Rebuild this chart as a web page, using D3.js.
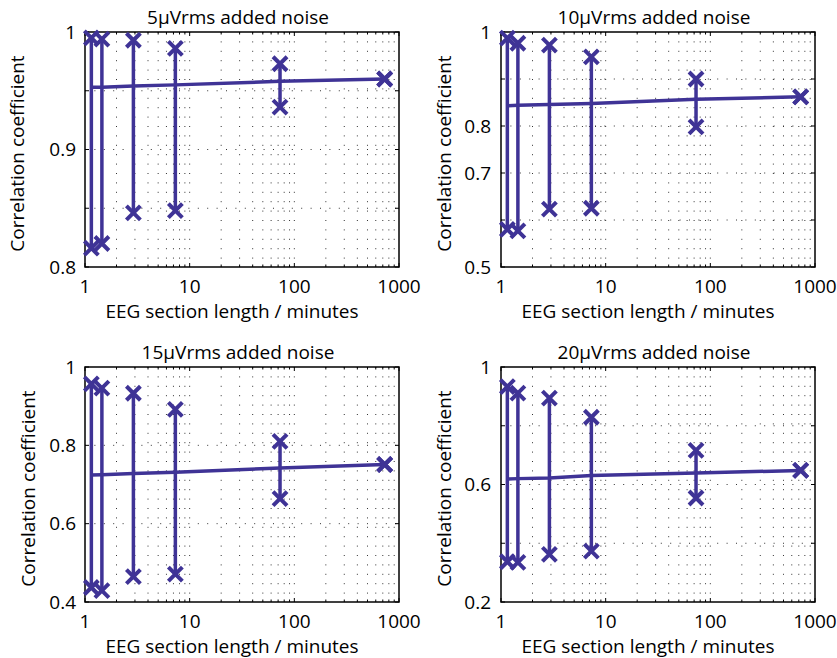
<!DOCTYPE html>
<html>
<head>
<meta charset="utf-8">
<title>Correlation vs section length</title>
<script src="https://d3js.org/d3.v7.min.js"></script>
<style>
  body { margin: 0; background: #fff; }
  text { font-family: "Open Sans", "Noto Sans", sans-serif; fill: #000; }
</style>
</head>
<body>
<svg width="837" height="658"></svg>
<script>
// section lengths (minutes), shared by all panels
var sectionLengths = [1.15, 1.45, 2.9, 7.3, 73, 730];

var panelTitles = ["5\u03BCVrms added noise", "10\u03BCVrms added noise", "15\u03BCVrms added noise", "20\u03BCVrms added noise"];

// mean / max / min correlation per panel
var meanValues = [
  [0.953, 0.953, 0.954, 0.955, 0.958, 0.960],
  [0.843, 0.844, 0.846, 0.848, 0.857, 0.862],
  [0.724, 0.725, 0.728, 0.731, 0.742, 0.751],
  [0.619, 0.620, 0.622, 0.631, 0.639, 0.648]
];
var maxValues = [
  [0.995, 0.994, 0.993, 0.986, 0.973, 0.960],
  [0.987, 0.976, 0.972, 0.947, 0.900, 0.862],
  [0.957, 0.946, 0.933, 0.892, 0.810, 0.751],
  [0.933, 0.911, 0.894, 0.829, 0.716, 0.648]
];
var minValues = [
  [0.816, 0.820, 0.846, 0.848, 0.936, 0.960],
  [0.580, 0.577, 0.623, 0.625, 0.798, 0.862],
  [0.437, 0.429, 0.465, 0.471, 0.664, 0.751],
  [0.337, 0.335, 0.362, 0.373, 0.554, 0.648]
];

// axis ranges and ticks
var yDomains = [[0.8, 1], [0.5, 1], [0.4, 1], [0.2, 1]];
var yTicks = [
  [0.8, 0.85, 0.9, 0.95, 1],
  [0.5, 0.6, 0.7, 0.8, 0.9, 1],
  [0.4, 0.6, 0.8, 1],
  [0.2, 0.4, 0.6, 0.8, 1]
];
var yTickLabels = [
  [0.8, 0.9, 1],
  [0.5, 0.7, 0.8, 1],
  [0.4, 0.6, 0.8, 1],
  [0.2, 0.6, 1]
];
var xMajorTicks = [1, 10, 100, 1000];
var xGridTicks = [1, 2, 3, 4, 5, 6, 7, 8, 9, 10, 20, 30, 40, 50, 60, 70, 80, 90,
                  100, 200, 300, 400, 500, 600, 700, 800, 900, 1000];

var lineColor = "#3f3396";
var svg = d3.select("svg");

var panelPos = [[85, 32], [501, 32], [85, 367], [501, 367]];
var ylabelX = [24, 451, 35, 451];
var pw = 314, ph = 235;
var fs = "19px";

panelTitles.forEach(function(title, i) {
  var g = svg.append("g").attr("transform", "translate(" + panelPos[i][0] + "," + panelPos[i][1] + ")");
  var x = d3.scaleLog().domain([1, 1000]).range([0, pw]);
  var y = d3.scaleLinear().domain(yDomains[i]).range([ph, 0]);

  // dotted grid
  g.selectAll(".vgrid").data(xGridTicks.slice(1, -1)).enter().append("line")
    .attr("x1", function(d){ return x(d); }).attr("x2", function(d){ return x(d); })
    .attr("y1", 0).attr("y2", ph)
    .attr("stroke", "#333").attr("stroke-width", 1)
    .attr("stroke-dasharray", "1,8.4");
  g.selectAll(".hgrid").data(yTicks[i].slice(1, -1)).enter().append("line")
    .attr("x1", 0).attr("x2", pw)
    .attr("y1", function(d){ return y(d); }).attr("y2", function(d){ return y(d); })
    .attr("stroke", "#333").attr("stroke-width", 1)
    .attr("stroke-dasharray", "1,8.4");

  // inward tick marks
  g.selectAll(".ytk").data(yTicks[i]).enter().append("path")
    .attr("d", function(d){ var yy = y(d); return "M0," + yy + "h4M" + pw + "," + yy + "h-4"; })
    .attr("stroke", "#000").attr("fill", "none");
  g.selectAll(".xtk").data(xGridTicks).enter().append("path")
    .attr("d", function(d){
      var xx = x(d), len = xMajorTicks.indexOf(d) >= 0 ? 4 : 2.5;
      return "M" + xx + "," + ph + "v-" + len + "M" + xx + ",0v" + len;
    })
    .attr("stroke", "#000").attr("fill", "none");

  // box
  g.append("rect").attr("width", pw).attr("height", ph)
    .attr("fill", "none").attr("stroke", "#000").attr("stroke-width", 1.5);

  // tick labels
  g.selectAll(".ylab").data(yTickLabels[i]).enter().append("text")
    .attr("x", i % 2 === 0 ? -9 : -10).attr("y", function(d){ return y(d); })
    .attr("dy", "0.35em").attr("text-anchor", "end")
    .style("font-size", fs)
    .text(function(d){ return d3.format("~g")(d); });
  g.selectAll(".xlab").data(xMajorTicks).enter().append("text")
    .attr("x", function(d){ return x(d); }).attr("y", ph + 26)
    .attr("text-anchor", "middle")
    .style("font-size", fs)
    .text(function(d){ return d; });

  // title and axis labels
  g.append("text").attr("x", pw / 2 - 4).attr("y", -8)
    .attr("text-anchor", "middle").style("font-size", fs).text(title);
  g.append("text").attr("x", pw / 2 - 10).attr("y", ph + 51)
    .attr("text-anchor", "middle").style("font-size", fs)
    .text("EEG section length / minutes");
  svg.append("text")
    .attr("transform", "translate(" + ylabelX[i] + "," + (panelPos[i][1] + ph / 2 + 4) + ") rotate(-90)")
    .attr("text-anchor", "middle").style("font-size", fs)
    .text("Correlation coefficient");

  // error bars
  var pts = sectionLengths.map(function(s, j){
    return { x: s, mean: meanValues[i][j], max: maxValues[i][j], min: minValues[i][j] };
  });
  g.selectAll(".err").data(pts).enter().append("line")
    .attr("x1", function(d){ return x(d.x); }).attr("x2", function(d){ return x(d.x); })
    .attr("y1", function(d){ return y(d.max); }).attr("y2", function(d){ return y(d.min); })
    .attr("stroke", lineColor).attr("stroke-width", 3.5);

  // mean line
  g.append("path").datum(pts)
    .attr("d", d3.line().x(function(d){ return x(d.x); }).y(function(d){ return y(d.mean); }))
    .attr("fill", "none").attr("stroke", lineColor).attr("stroke-width", 3.5);

  // x markers at max and min
  var markers = [];
  pts.forEach(function(d){ markers.push({x: d.x, v: d.max}); markers.push({x: d.x, v: d.min}); });
  var s = 7;
  g.selectAll(".mk").data(markers).enter().append("path")
    .attr("d", function(d){
      var cx = x(d.x), cy = y(d.v);
      return "M" + (cx - s) + "," + (cy - s) + "L" + (cx + s) + "," + (cy + s) +
             "M" + (cx - s) + "," + (cy + s) + "L" + (cx + s) + "," + (cy - s);
    })
    .attr("stroke", lineColor).attr("stroke-width", 4).attr("fill", "none");
});
</script>
</body>
</html>
